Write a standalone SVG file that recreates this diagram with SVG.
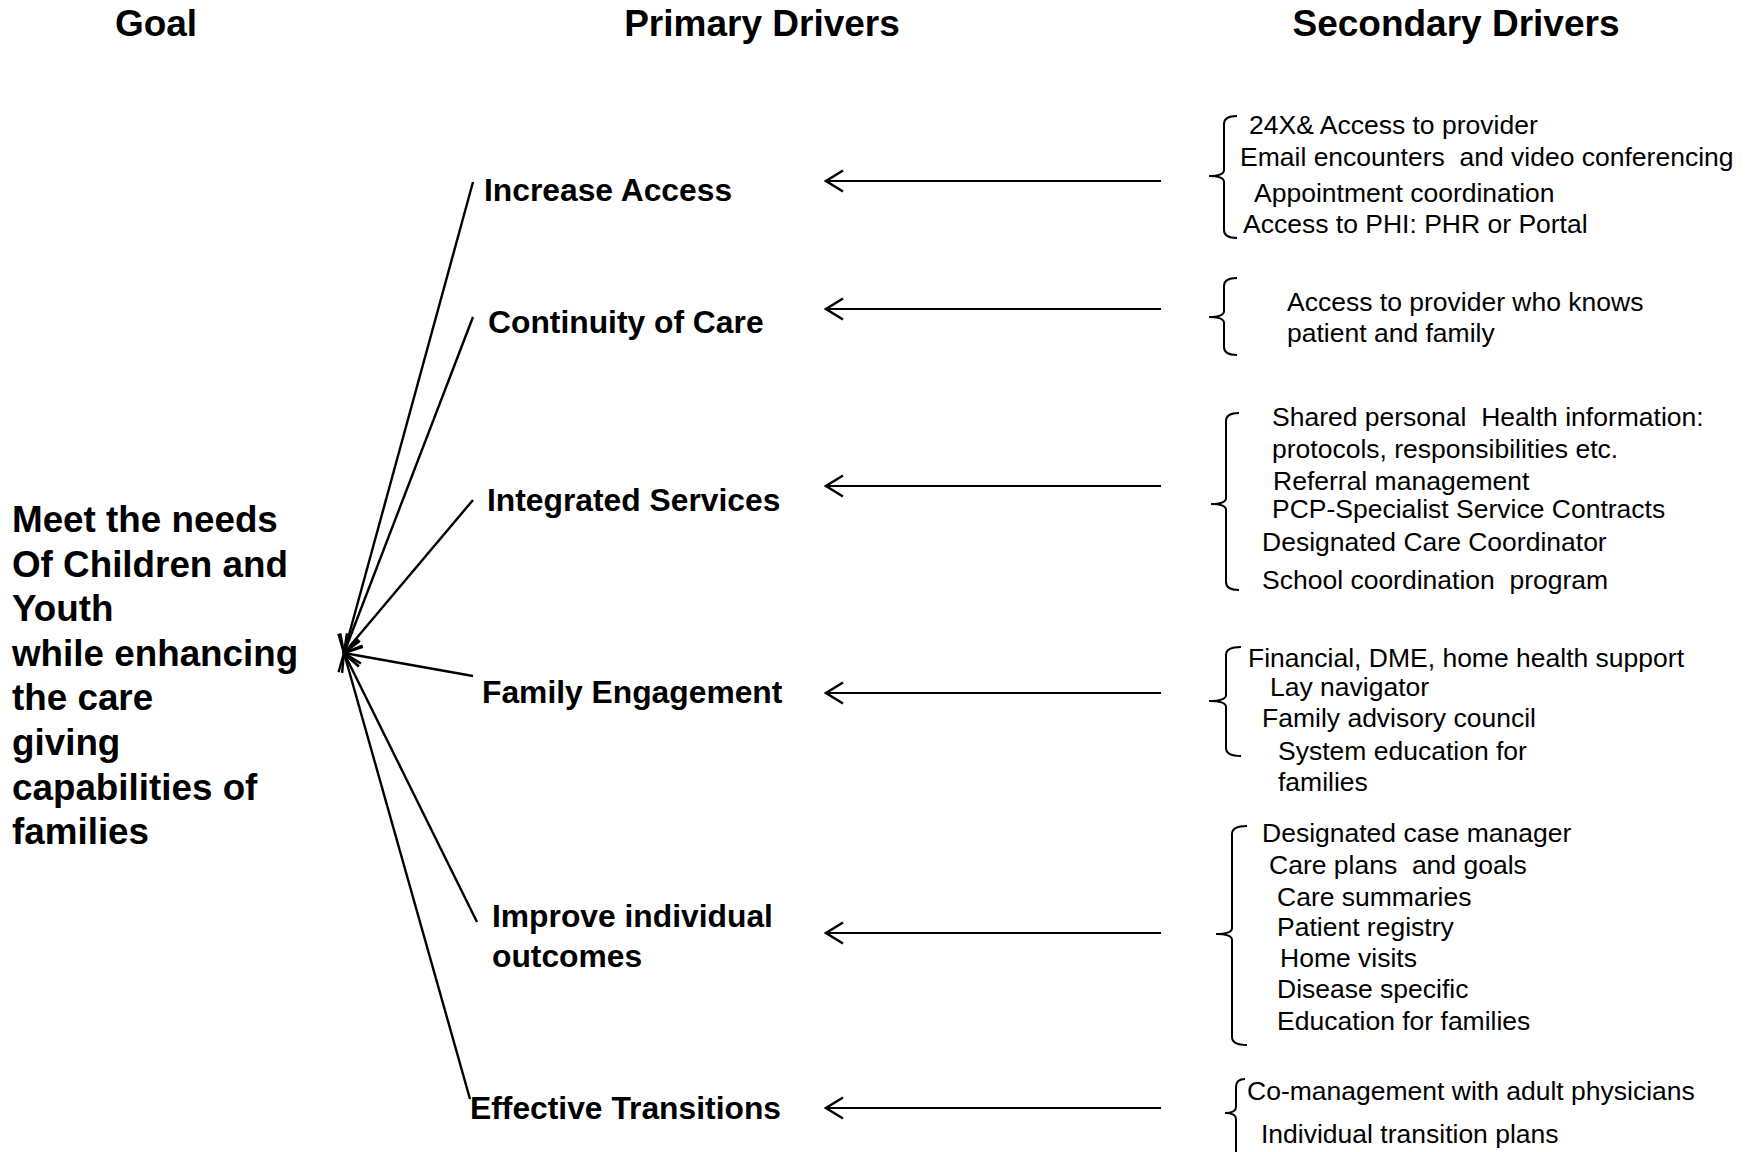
<svg xmlns="http://www.w3.org/2000/svg" width="1750" height="1152" viewBox="0 0 1750 1152">
<style>
text{font-family:"Liberation Sans",Arial,sans-serif;fill:#000;white-space:pre}
.hd{font-size:37px;font-weight:bold;text-anchor:middle}
.goal{font-size:36.8px;font-weight:bold}
.pd{font-size:31.8px;font-weight:bold}
.sd{font-size:26.5px}
.ln{stroke:#000;stroke-width:2.4;fill:none}
.ha{stroke:#000;stroke-width:2.2;fill:none}
.br{stroke:#000;stroke-width:2;fill:none}
</style>
<defs>
<marker id="ah" viewBox="-20 -12 22 24" refX="0" refY="0" markerWidth="22" markerHeight="24" markerUnits="userSpaceOnUse" orient="auto">
<path d="M-17,-10.5 L0,0 L-17,10.5" fill="none" stroke="#000" stroke-width="2.4"/>
</marker>
</defs>
<rect width="1750" height="1152" fill="#fff"/>
<g id="headers">
<text class="hd" x="156" y="36">Goal</text>
<text class="hd" x="762" y="36">Primary Drivers</text>
<text class="hd" x="1456" y="36">Secondary Drivers</text>
</g>
<g id="goal">
<text class="goal" x="12" y="532">Meet the needs</text>
<text class="goal" x="12" y="577">Of Children and</text>
<text class="goal" x="12" y="621">Youth</text>
<text class="goal" x="12" y="666">while enhancing</text>
<text class="goal" x="12" y="710">the care</text>
<text class="goal" x="12" y="755">giving</text>
<text class="goal" x="12" y="800">capabilities of</text>
<text class="goal" x="12" y="844">families</text>
</g>
<g id="primary-increase-access"><text class="pd" x="484" y="201">Increase Access</text></g>
<g id="primary-continuity"><text class="pd" x="488" y="333">Continuity of Care</text></g>
<g id="primary-integrated"><text class="pd" x="487" y="511">Integrated Services</text></g>
<g id="primary-family"><text class="pd" x="482" y="703">Family Engagement</text></g>
<g id="primary-improve"><text class="pd" x="492" y="927">Improve individual</text><text class="pd" x="492" y="967">outcomes</text></g>
<g id="primary-transitions"><text class="pd" x="470" y="1119">Effective Transitions</text></g>
<g id="secondary-access">
<path class="br" d="M1237,116 Q1224,116 1224,124 L1224,170 Q1224,176 1209,176 Q1224,176 1224,182 L1224,230 Q1224,238 1237,238"/>
<text class="sd" x="1249" y="134">24X&amp; Access to provider</text>
<text class="sd" x="1240" y="166">Email encounters  and video conferencing</text>
<text class="sd" x="1254" y="202">Appointment coordination</text>
<text class="sd" x="1243" y="233">Access to PHI: PHR or Portal</text>
</g>
<g id="secondary-continuity">
<path class="br" d="M1237,278 Q1224,278 1224,286 L1224,311 Q1224,317 1209,317 Q1224,317 1224,323 L1224,347 Q1224,355 1237,355"/>
<text class="sd" x="1287" y="311">Access to provider who knows</text>
<text class="sd" x="1287" y="342">patient and family</text>
</g>
<g id="secondary-integrated">
<path class="br" d="M1239,413 Q1226,413 1226,421 L1226,498 Q1226,504 1211,504 Q1226,504 1226,510 L1226,582 Q1226,590 1239,590"/>
<text class="sd" x="1272" y="426">Shared personal  Health information:</text>
<text class="sd" x="1272" y="458">protocols, responsibilities etc.</text>
<text class="sd" x="1273" y="490">Referral management</text>
<text class="sd" x="1272" y="518">PCP-Specialist Service Contracts</text>
<text class="sd" x="1262" y="551">Designated Care Coordinator</text>
<text class="sd" x="1262" y="589">School coordination  program</text>
</g>
<g id="secondary-family">
<path class="br" d="M1241,647 Q1226,647 1226,655 L1226,695 Q1226,701 1209,701 Q1226,701 1226,707 L1226,748 Q1226,756 1241,756"/>
<text class="sd" x="1248" y="667">Financial, DME, home health support</text>
<text class="sd" x="1270" y="696">Lay navigator</text>
<text class="sd" x="1262" y="727">Family advisory council</text>
<text class="sd" x="1278" y="760">System education for</text>
<text class="sd" x="1278" y="791">families</text>
</g>
<g id="secondary-outcomes">
<path class="br" d="M1247,826 Q1232,826 1232,834 L1232,928 Q1232,934 1216,934 Q1232,934 1232,940 L1232,1037 Q1232,1045 1247,1045"/>
<text class="sd" x="1262" y="842">Designated case manager</text>
<text class="sd" x="1269" y="874">Care plans  and goals</text>
<text class="sd" x="1277" y="906">Care summaries</text>
<text class="sd" x="1277" y="936">Patient registry</text>
<text class="sd" x="1280" y="967">Home visits</text>
<text class="sd" x="1277" y="998">Disease specific</text>
<text class="sd" x="1277" y="1030">Education for families</text>
</g>
<g id="secondary-transitions">
<path class="br" d="M1245,1079 Q1236,1079 1236,1087 L1236,1107 Q1236,1113 1225,1113 Q1236,1113 1236,1119 L1236,1160"/>
<text class="sd" x="1247" y="1100">Co-management with adult physicians</text>
<text class="sd" x="1261" y="1143">Individual transition plans</text>
</g>
<g id="connectors">
<line class="ln" x1="473" y1="182" x2="344" y2="653" marker-end="url(#ah)"/>
<line class="ln" x1="473" y1="317" x2="344" y2="653" marker-end="url(#ah)"/>
<line class="ln" x1="473" y1="500" x2="344" y2="653" marker-end="url(#ah)"/>
<line class="ln" x1="473" y1="676" x2="344" y2="653" marker-end="url(#ah)"/>
<line class="ln" x1="477" y1="922" x2="344" y2="653" marker-end="url(#ah)"/>
<line class="ln" x1="470" y1="1099" x2="344" y2="653" marker-end="url(#ah)"/>
<line class="ha" x1="1161" y1="181" x2="826" y2="181" marker-end="url(#ah)"/>
<line class="ha" x1="1161" y1="309" x2="826" y2="309" marker-end="url(#ah)"/>
<line class="ha" x1="1161" y1="486" x2="826" y2="486" marker-end="url(#ah)"/>
<line class="ha" x1="1161" y1="693" x2="826" y2="693" marker-end="url(#ah)"/>
<line class="ha" x1="1161" y1="933" x2="826" y2="933" marker-end="url(#ah)"/>
<line class="ha" x1="1161" y1="1108" x2="826" y2="1108" marker-end="url(#ah)"/>
</g>
</svg>
